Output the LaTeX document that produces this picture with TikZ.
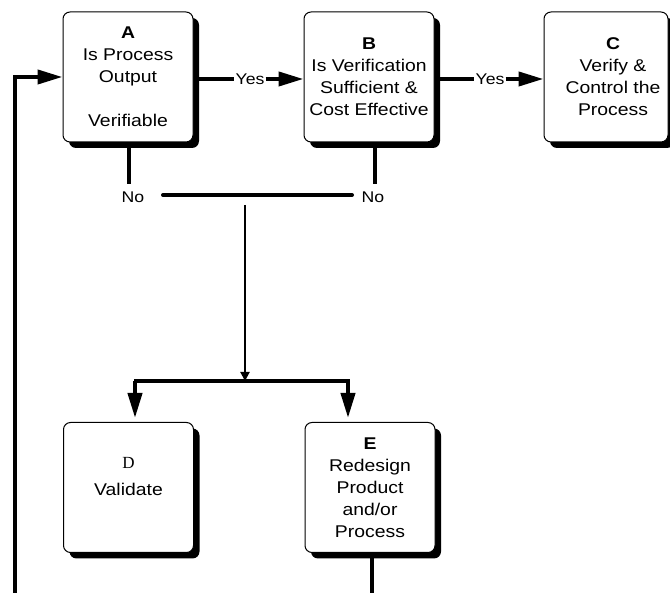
\documentclass[tikz,border=0pt]{standalone}
\usepackage{fontspec}
\setmainfont{Liberation Sans}[FakeStretch=1.14]
\newfontfamily\dfont{Liberation Serif}
\usetikzlibrary{arrows.meta,shadows}
\tikzset{
  box/.style={draw=black, line width=1pt, fill=white, rounded corners=7pt,
    minimum width=130pt, minimum height=130pt, inner sep=0pt, align=center,
    font=\fontsize{17}{22}\selectfont,
    drop shadow={shadow xshift=6pt, shadow yshift=-6pt, fill=black, opacity=1}},
  lbl/.style={font=\fontsize{15.5}{18}\selectfont, inner sep=1pt},
  heavy/.style={line width=4pt},
  arr/.style={line width=4pt, -{Triangle[length=25pt,width=14pt]}},
  thinarr/.style={line width=2pt, -{Triangle[length=9pt,width=9pt]}},
}
\newcommand{\cs}{\hspace*{14pt}}
\begin{document}
\begin{tikzpicture}[x=1pt,y=-1pt]
\useasboundingbox (0,0) rectangle (670,593);
% boxes
\node[box] (A) at (128,77) {\textbf{A}\\Is Process\\Output\\[22pt]Verifiable};
\node[box] (B) at (369,77) {\textbf{B}\\Is Verification\\Sufficient \&\\Cost Effective};
\node[box, minimum width=124pt] (C) at (606,77) {\cs\textbf{C}\\\cs Verify \&\\\cs Control the\\\cs Process};
\node[box] (D) at (128.5,487.5) {{\dfont D}\\[5pt]Validate\\\mbox{}};
\node[box] (E) at (370,487.5) {\mbox{}\\[-10pt]\textbf{E}\\Redesign\\Product\\and/or\\Process};
% labels
\node[lbl] (y1) at (250,79) {Yes};
\node[lbl] (y2) at (490,79) {Yes};
\node[lbl] (n1) at (133,197) {No};
\node[lbl] (n2) at (373,197) {No};
% coordinates
\coordinate (nl) at (163,195);
\coordinate (nr) at (352,195);
\coordinate (t) at (245,205);
\coordinate (j) at (245,381);
\coordinate (bl) at (134,381);
\coordinate (br) at (350,381);
\coordinate (lb) at (15,600);
\coordinate (eb) at (372,600);
% connectors
\draw[heavy] (A.east |- y1) -- (y1.west);
\draw[arr] (y1.east) -- (B.west |- y1);
\draw[heavy] (B.east |- y2) -- (y2.west);
\draw[arr] (y2.east) -- (C.west |- y2);
\draw[heavy] (A.south -| 129,0) -- ([yshift=6pt]n1.north -| 129,0);
\draw[heavy] (B.south -| 375,0) -- ([yshift=6pt]n2.north -| 375,0);
\draw[heavy, line cap=round] (nl) -- (nr);
\draw[thinarr] (t) -- (j);
\draw[heavy] (bl) -- (br);
\draw[arr, shorten >=4pt] ([xshift=1pt]bl) -- ([xshift=1pt]bl |- D.north);
\draw[arr, shorten >=4pt] ([xshift=-2pt]br) -- ([xshift=-2pt]br |- E.north);
\draw[arr] (lb) |- (A.west);
\draw[heavy] (eb) -- (eb |- E.south);
\end{tikzpicture}
\end{document}
